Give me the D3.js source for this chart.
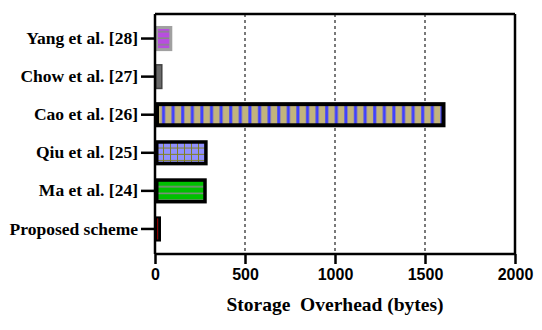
<!DOCTYPE html>
<html><head><meta charset="utf-8">
<script src="https://cdn.jsdelivr.net/npm/d3@7"></script>
<style>
body{margin:0;background:#fff;}
svg{display:block;}
.serif{font-family:"Liberation Serif","Times New Roman",serif;font-weight:bold;fill:#000;}
.sans{font-family:"Liberation Sans",Arial,sans-serif;font-weight:bold;fill:#000;}
</style></head>
<body>
<svg id="chart" width="542" height="330"></svg>
<script>
const categories = ["Yang et al. [28]", "Chow et al. [27]", "Cao et al. [26]", "Qiu et al. [25]", "Ma et al. [24]", "Proposed scheme"];
const values = [85, 35, 1600, 280, 275, 25];
const xTicks = [0, 500, 1000, 1500, 2000];
const gridTicks = [500, 1000, 1500];
const xTitle = "Storage  Overhead (bytes)";

const svg = d3.select("#chart");
const L = 155, R = 515, T = 14, B = 254;
const x = d3.scaleLinear().domain([0, 2000]).range([L, R]);
const y = d3.scaleBand().domain(categories).range([19.5, 248]).paddingInner(0.34).paddingOuter(0.17);

const defs = svg.append("defs");
const pYang = defs.append("pattern").attr("id","pYang").attr("patternUnits","userSpaceOnUse").attr("width",10).attr("height",6.5).attr("y",0);
pYang.append("rect").attr("width",10).attr("height",6.5).attr("fill","#b84ee0");
pYang.append("rect").attr("y",5).attr("width",10).attr("height",1.5).attr("fill","#888888");
const pCao = defs.append("pattern").attr("id","pCao").attr("patternUnits","userSpaceOnUse").attr("width",9.6).attr("height",10).attr("x",L+1);
pCao.append("rect").attr("width",9.6).attr("height",10).attr("fill","#c2b47c");
pCao.append("rect").attr("x",6).attr("width",3).attr("height",10).attr("fill","#4040ff");
pCao.append("rect").attr("x",9).attr("width",0.8).attr("height",10).attr("fill","#8a84b8");
const pQiu = defs.append("pattern").attr("id","pQiu").attr("patternUnits","userSpaceOnUse").attr("width",7).attr("height",6.3).attr("x",L+2).attr("y",y("Qiu et al. [25]")+2);
pQiu.append("rect").attr("width",7).attr("height",6.3).attr("fill","#9090ff");
pQiu.append("rect").attr("x",6).attr("width",1).attr("height",6.3).attr("fill","#808020");
pQiu.append("rect").attr("y",5.3).attr("width",7).attr("height",1).attr("fill","#808020");
const pMa = defs.append("pattern").attr("id","pMa").attr("patternUnits","userSpaceOnUse").attr("width",10).attr("height",6.7).attr("y",y("Ma et al. [24]")+2.5);
pMa.append("rect").attr("width",10).attr("height",6.7).attr("fill","#00c000");
pMa.append("rect").attr("y",5.2).attr("width",10).attr("height",1.5).attr("fill","#888888");
const pProp = defs.append("pattern").attr("id","pProp").attr("patternUnits","userSpaceOnUse").attr("width",5).attr("height",10).attr("x",L);
pProp.append("rect").attr("width",5).attr("height",10).attr("fill","#111");
pProp.append("rect").attr("x",2).attr("width",1).attr("height",10).attr("fill","#900000");

const styles = {
  "Yang et al. [28]": {fill:"url(#pYang)", stroke:"#a0a0a0", sw:3},
  "Chow et al. [27]": {fill:"#6a6a6a", stroke:"#444", sw:1.5},
  "Cao et al. [26]": {fill:"url(#pCao)", stroke:"#000", sw:4},
  "Qiu et al. [25]": {fill:"url(#pQiu)", stroke:"#000", sw:3.5},
  "Ma et al. [24]": {fill:"url(#pMa)", stroke:"#000", sw:3.5},
  "Proposed scheme": {fill:"url(#pProp)", stroke:"#000", sw:2}
};

svg.append("g").selectAll("line").data(gridTicks).join("line")
  .attr("x1", d=>x(d)).attr("x2", d=>x(d)).attr("y1", T).attr("y2", B)
  .attr("stroke","#333").attr("stroke-width",1.3).attr("stroke-dasharray","3,3");

svg.append("line").attr("x1",L).attr("x2",R).attr("y1",T).attr("y2",T).attr("stroke","#000").attr("stroke-width",2.5);
svg.append("line").attr("x1",R).attr("x2",R).attr("y1",T).attr("y2",B).attr("stroke","#000").attr("stroke-width",2.5);

const data = categories.map((c,i)=>({c, v: values[i]}));
svg.append("g").selectAll("rect").data(data).join("rect")
  .attr("x", d => x(0) + styles[d.c].sw/2)
  .attr("y", d => y(d.c) + styles[d.c].sw/2)
  .attr("width", d => Math.max(0.5, x(d.v) - x(0) - styles[d.c].sw/2 + 0.5))
  .attr("height", d => y.bandwidth() - styles[d.c].sw)
  .attr("fill", d => styles[d.c].fill)
  .attr("stroke", d => styles[d.c].stroke)
  .attr("stroke-width", d => styles[d.c].sw);

const xAxis = svg.append("g").attr("transform", `translate(0,${B})`)
  .call(d3.axisBottom(x).tickValues(xTicks).tickSize(10).tickPadding(5).tickFormat(d3.format("d")));
xAxis.select(".domain").attr("stroke","#000").attr("stroke-width",2.5).attr("d", `M${L},0H${R}`);
xAxis.selectAll(".tick line").attr("stroke","#000").attr("stroke-width",2.5);
xAxis.selectAll(".tick text").attr("class","sans").style("font-size","16px");

const yAxis = svg.append("g").attr("transform", `translate(${L},0)`)
  .call(d3.axisLeft(y).tickSize(14).tickPadding(3));
yAxis.select(".domain").attr("stroke","#000").attr("stroke-width",2.5).attr("d", `M0,${T}V${B}`);
yAxis.selectAll(".tick line").attr("stroke","#000").attr("stroke-width",2.5);
yAxis.selectAll(".tick text").attr("class","serif").style("font-size","17.5px");

svg.append("text").attr("class","serif").attr("x", (L+R)/2).attr("y", 311).attr("text-anchor","middle")
  .style("font-size","19.5px").style("white-space","pre").text(xTitle);
</script>
</body></html>
